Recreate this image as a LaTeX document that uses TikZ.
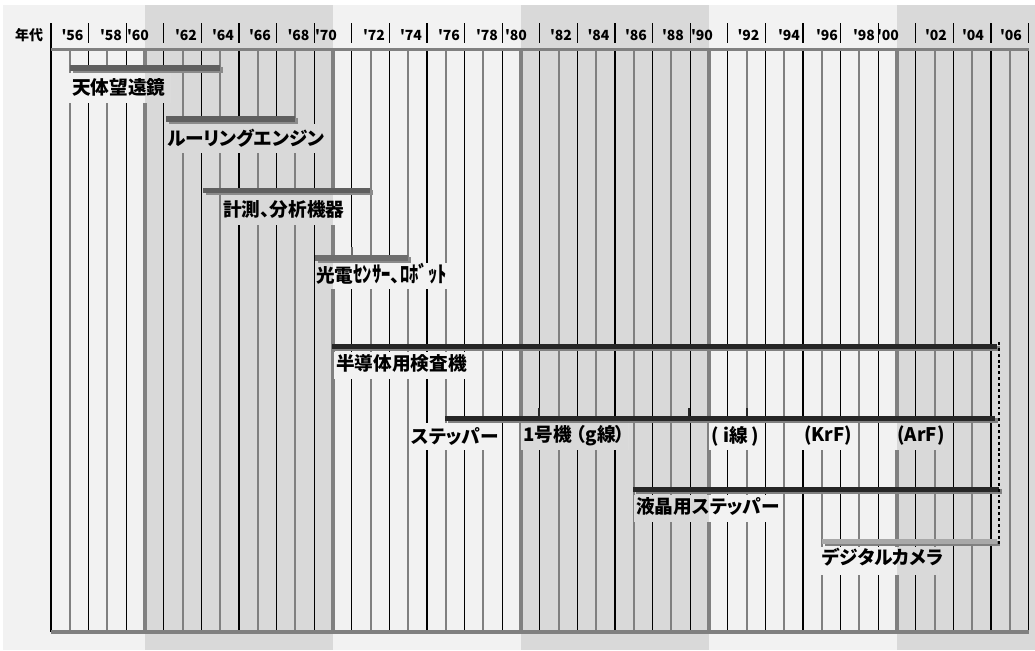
\documentclass[tikz,border=0pt]{standalone}
\usepackage{fontspec}
\setmainfont{Noto Sans CJK JP}
\newfontfamily\jpp[RawFeature=+palt]{Noto Sans CJK JP}
\definecolor{bgl}{HTML}{F2F2F2}
\definecolor{bgd}{HTML}{D9D9D9}
\definecolor{gl}{HTML}{808080}
\definecolor{shd}{HTML}{8A8A8A}
\definecolor{bar1}{HTML}{5F5F5F}
\definecolor{bar2}{HTML}{6E6E6E}
\definecolor{bar3}{HTML}{262626}
\definecolor{bar4}{HTML}{A8A8A8}
\newcommand\bandsbg{%
  \fill[bgl] (3,5) rectangle (1035,650);
  \fill[bgd] (145,5) rectangle (333,650);
  \fill[bgd] (521,5) rectangle (709,650);
  \fill[bgd] (897,5) rectangle (1035,650);}
\newcommand\patchbg[4]{\begin{scope}\clip (#1,#2) rectangle (#3,#4);\bandsbg\end{scope}}
\newcommand\gbar[6]{% x1 x2 y width colour shadow
  \draw[line width={#4*0.75pt}, draw=#6] (#1+3,#3+2) -- (#2+3,#3+2);
  \draw[line width={#4*0.75pt}, draw=#5] (#1,#3) -- (#2,#3);}
\newcommand\hw[1]{\scalebox{1.0}[1.2]{#1}}
\begin{document}
\begin{tikzpicture}[x=0.75pt,y=-0.75pt,
  oddline/.style={draw=black,line width=0.8pt},
  evenline/.style={draw=gl,line width=1.5pt},
  decline/.style={draw=gl,line width=2.3pt},
  axisline/.style={draw=gl,line width=2pt},
  hdr/.style={font=\bfseries\fontsize{10.5}{12}\selectfont,inner sep=0pt},
  lbl/.style={font=\jpp\bfseries\fontsize{14}{16}\selectfont,inner sep=0pt,anchor=west},
  lblw/.style={font=\bfseries\fontsize{14}{16}\selectfont,inner sep=0pt,anchor=west},
  tick/.style={draw=bar3,line width=2.2pt}]
\useasboundingbox (0,0) rectangle (1035,650);
\fill[white] (0,0) rectangle (1035,650);
\bandsbg
% grid
\foreach \yy in {1957,1959,...,2007}
  \draw[oddline] ({145+(\yy-1960)*18.8},49) -- ({145+(\yy-1960)*18.8},632);
\draw[oddline] (51,23) -- (51,632);
\foreach \yy in {1956,1958,1962,1964,1966,1968,1972,1974,1976,1978,1982,1984,1986,1988,1992,1994,1996,1998,2002,2004,2006}
  \draw[evenline] ({145+(\yy-1960)*18.8},49) -- ({145+(\yy-1960)*18.8},632);
\foreach \yy in {1960,1970,1980,1990,2000}
  \draw[decline] ({145+(\yy-1960)*18.8},49) -- ({145+(\yy-1960)*18.8},632);
% header separators
\foreach \yy in {1957,1959,...,2007}
  \draw[oddline] ({145+(\yy-1960)*18.8},23) -- ({145+(\yy-1960)*18.8},43);
% axes
\draw[axisline] (51,49.5) -- (1029,49.5);
\draw[gl,line width=3pt] (51,632) -- (1029,632);
% header labels
\node[hdr] (h0) at (29,35.5) {年代};
\foreach \lab/\xx in {56/72.5,58/111,60/138,62/186,64/223,66/260,68/298.5,70/326,72/374,74/411,76/449,78/487,80/516,82/561,84/598.5,86/636,88/673,90/702,92/748.5,94/789,96/827,98/864,00/888,02/936,04/973,06/1011}
  \node[hdr] (h\lab) at (\xx,35.5) {\textquotesingle\lab};
% label patches
\patchbg{69}{73}{170}{102}
\patchbg{165}{124}{318}{152}
\patchbg{221}{195}{350}{224}
\patchbg{315}{263}{460}{288}
\patchbg{334}{352}{470}{378}
\patchbg{409}{423}{498}{449}
\patchbg{521}{423}{628}{449}
\patchbg{709}{423}{761}{449}
\patchbg{802}{423}{848}{449}
\patchbg{895}{423}{943}{449}
\patchbg{634}{495}{780}{521}
\patchbg{820}{547}{938}{574}
% bars
\gbar{70}{220}{68}{6}{bar1}{shd}
\gbar{166}{295}{119}{6}{bar1}{shd}
\gbar{203}{370}{190}{5}{bar1}{shd}
\draw[draw=bar2,line width=2pt] (352,247) -- (352,258);
\gbar{315}{408}{258}{6}{bar2}{shd}
\gbar{332}{997}{346}{5}{bar3}{gl}
\foreach \xx in {539,689,747} \draw[tick] (\xx,408) -- (\xx,418);
\gbar{445}{995}{418}{5}{bar3}{gl}
\gbar{633}{999}{489}{5}{bar3}{gl}
\gbar{822}{997}{541}{5}{bar4}{gl}
\coordinate (dtop) at (999,342);
\coordinate (dbot) at (999,547);
\draw[draw=black,line width=2.2pt,dash pattern=on 2.2pt off 2.2pt] (dtop) -- (dbot);
% labels
\node[lbl] (t1) at (72,87) {天体望遠鏡};
\node[lbl] (t2) at (167,138) {ルーリングエンジン};
\node[lblw] (t3) at (223,209) {計測{\jpp 、}分析機器};
\node[lblw] (t4) at (316,274) {光電\hw{ｾﾝｻｰ}{\jpp 、}\hw{ﾛﾎﾞｯﾄ}};
\node[lbl] (t5) at (336,363) {半導体用検査機};
\node[lbl] (t6) at (411,436) {ステッパー};
\node[lbl] (t7) at (523,436) {1号機 （g線）};
\node[lbl] (t8) at (711,436) {( i線 )};
\node[lbl] (t9) at (804,436) {(KrF)};
\node[lbl] (t10) at (897,436) {(ArF)};
\node[lbl] (t11) at (636,506) {液晶用ステッパー};
\node[lbl] (t12) at (822,557) {デジタルカメラ};
\end{tikzpicture}
\end{document}
